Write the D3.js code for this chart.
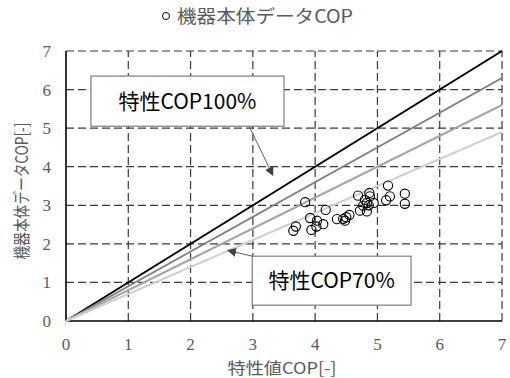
<!DOCTYPE html>
<html>
<head>
<meta charset="utf-8">
<script src="https://cdn.jsdelivr.net/npm/d3@7"></script>
<style>
  html, body { margin: 0; padding: 0; background: #fff; }
  svg { display: block; }
</style>
</head>
<body>
<svg id="chart" width="510" height="378"></svg>
<script>
// Measured unit COP (x: rated COP, y: unit COP)
const ratedCop = [3.65, 3.69, 3.84, 3.92, 3.94, 4.02, 4.03, 4.13, 4.17, 4.35, 4.45, 4.48, 4.50, 4.55, 4.69, 4.72, 4.77, 4.80, 4.83, 4.83, 4.87, 4.88, 4.94, 4.86, 5.14, 5.20, 5.17, 5.44, 5.44];
const unitCop  = [2.34, 2.45, 3.08, 2.67, 2.36, 2.45, 2.60, 2.51, 2.88, 2.64, 2.65, 2.60, 2.69, 2.75, 3.25, 2.86, 2.99, 3.14, 3.06, 2.84, 3.32, 3.23, 3.06, 3.00, 3.13, 3.23, 3.51, 3.30, 3.04];

// Reference ratio lines (unit COP = ratio × rated COP)
const ratios      = [1.0, 0.9, 0.8, 0.7];
const ratioColors = ["#000000", "#7f7f7f", "#a6a6a6", "#d0d0d0"];

const tickValues = [0, 1, 2, 3, 4, 5, 6, 7];

const titleText = "機器本体データCOP";
const xTitle = "特性値COP[-]";
const yTitle = "機器本体データCOP[-]";

// Callouts: box extents and arrow (tail → head) in data units
const callouts = [
  { text: "特性COP100%", x0: 0.40, x1: 3.50, y0: 5.05, y1: 6.35, tail: [2.94, 5.05], head: [3.32, 3.78] },
  { text: "特性COP70%",  x0: 2.99, x1: 5.54, y0: 0.41, y1: 1.68, tail: [2.99, 1.68], head: [2.60, 1.83] }
];

const svg = d3.select("#chart");
const margin = { left: 66, right: 8, top: 51, bottom: 57 };
const W = 510, H = 378;
const x = d3.scaleLinear().domain([0, 7]).range([margin.left, W - margin.right]);
const y = d3.scaleLinear().domain([0, 7]).range([H - margin.bottom, margin.top]);

const gray = "#595959";
const cjk = "'Noto Sans CJK JP', 'Noto Sans', sans-serif";
const numFont = "'Liberation Serif', 'DejaVu Serif', serif";

// Grid
const grid = svg.append("g").attr("stroke", "#3a3a3a").attr("stroke-width", 1.2).attr("stroke-dasharray", "8,4");
grid.selectAll("line.v").data(tickValues.filter(d => d > 0)).join("line")
  .attr("x1", d => x(d)).attr("x2", d => x(d)).attr("y1", y(0)).attr("y2", y(7));
grid.selectAll("line.h").data(tickValues.filter(d => d > 0)).join("line")
  .attr("y1", d => y(d)).attr("y2", d => y(d)).attr("x1", x(0)).attr("x2", x(7));

// Axes (solid left and bottom)
svg.append("line").attr("x1", x(0)).attr("x2", x(0)).attr("y1", y(0)).attr("y2", y(7))
  .attr("stroke", "#000").attr("stroke-width", 1.6);
svg.append("line").attr("x1", x(0)).attr("x2", x(7)).attr("y1", y(0)).attr("y2", y(0))
  .attr("stroke", "#000").attr("stroke-width", 1.6);

// Tick labels
svg.append("g").selectAll("text").data(tickValues).join("text")
  .style("font-family", numFont)
  .attr("x", d => x(d)).attr("y", y(0) + 29)
  .attr("text-anchor", "middle")
  .attr("font-size", 17).attr("fill", gray)
  .text(d => d);
svg.append("g").selectAll("text").data(tickValues).join("text")
  .style("font-family", numFont)
  .attr("x", 51).attr("y", d => y(d)).attr("dy", "0.35em")
  .attr("text-anchor", "end")
  .attr("font-size", 17).attr("fill", gray)
  .text(d => d);

// Ratio lines
svg.append("g").selectAll("line").data(ratios).join("line")
  .attr("x1", x(0)).attr("y1", y(0))
  .attr("x2", x(7)).attr("y2", d => y(7 * d))
  .attr("stroke", (d, i) => ratioColors[i]).attr("stroke-width", 2);

// Scatter points
svg.append("g").selectAll("circle").data(ratedCop.map((v, i) => [v, unitCop[i]])).join("circle")
  .attr("cx", d => x(d[0])).attr("cy", d => y(d[1])).attr("r", 4.6)
  .attr("fill", "none").attr("stroke", "#000").attr("stroke-width", 1.1);

// Arrowhead marker
svg.append("defs").append("marker")
  .attr("id", "arrow").attr("viewBox", "0 0 10 10").attr("refX", 9).attr("refY", 5)
  .attr("markerWidth", 9).attr("markerHeight", 9).attr("markerUnits", "userSpaceOnUse")
  .attr("orient", "auto")
  .append("path").attr("d", "M0,0 L10,5 L0,10 Z").attr("fill", "#404040");

// Callouts
const co = svg.append("g");
callouts.forEach(c => {
  co.append("line")
    .attr("x1", x(c.tail[0])).attr("y1", y(c.tail[1]))
    .attr("x2", x(c.head[0])).attr("y2", y(c.head[1]))
    .attr("stroke", "#606060").attr("stroke-width", 1)
    .attr("marker-end", "url(#arrow)");
  co.append("rect")
    .attr("x", x(c.x0)).attr("y", y(c.y1))
    .attr("width", x(c.x1) - x(c.x0)).attr("height", y(c.y0) - y(c.y1))
    .attr("fill", "#fff").attr("stroke", "#7f7f7f").attr("stroke-width", 1.2);
  co.append("text")
    .attr("x", (x(c.x0) + x(c.x1)) / 2).attr("y", (y(c.y0) + y(c.y1)) / 2)
    .attr("dy", "0.36em").attr("text-anchor", "middle")
    .attr("font-family", cjk).attr("font-size", 21).attr("fill", "#000")
    .text(c.text);
});

// Title with legend marker
svg.append("circle").attr("cx", 166).attr("cy", 16).attr("r", 3.5)
  .attr("fill", "none").attr("stroke", "#000").attr("stroke-width", 1);
svg.append("text").attr("x", 177).attr("y", 23)
  .attr("font-family", cjk).attr("font-size", 18).attr("fill", gray)
  .attr("textLength", 176).attr("lengthAdjust", "spacingAndGlyphs")
  .text(titleText);

// Axis titles
svg.append("text").attr("x", (x(0) + x(7)) / 2 - 2).attr("y", 374)
  .attr("text-anchor", "middle")
  .attr("font-family", cjk).attr("font-size", 16).attr("fill", gray)
  .attr("textLength", 109).attr("lengthAdjust", "spacingAndGlyphs")
  .text(xTitle);
svg.append("text")
  .attr("transform", `translate(28, ${191}) rotate(-90)`)
  .attr("text-anchor", "middle")
  .attr("font-family", cjk).attr("font-size", 17).attr("fill", gray)
  .attr("textLength", 137).attr("lengthAdjust", "spacingAndGlyphs")
  .text(yTitle);
</script>
</body>
</html>
